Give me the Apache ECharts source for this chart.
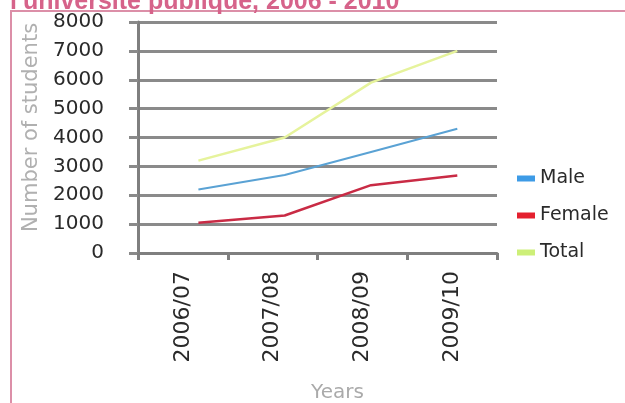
<!DOCTYPE html>
<html>
<head>
<meta charset="utf-8">
<script src="https://cdn.jsdelivr.net/npm/echarts@6/dist/echarts.min.js"></script>
<style>
html,body{margin:0;padding:0;background:#fff;}
#chart{width:625px;height:403px;}
</style>
</head>
<body>
<div id="chart"></div>
<script>
var categories = ['2006/07', '2007/08', '2008/09', '2009/10'];
var male = [2200, 2700, 3500, 4300];
var female = [1050, 1300, 2350, 2680];
var total = [3200, 4000, 5900, 7000];
var yTicks = [0, 1000, 2000, 3000, 4000, 5000, 6000, 7000, 8000];
var titleText = "l'université publique, 2006 - 2010";

function pts(arr) { return arr.map(function (v, i) { return [i, v]; }); }

var chart = echarts.init(document.getElementById('chart'));
var font = 'DejaVu Sans';
chart.setOption({
  animation: false,
  backgroundColor: '#ffffff',
  graphic: [
    { type: 'polyline', shape: { points: [[11, 403], [11, 11], [625, 11]] },
      style: { stroke: '#dc8fa8', lineWidth: 2, fill: null } },
    { type: 'text', left: 10, top: -10,
      style: { text: titleText, fill: '#d6638a', font: 'bold 25px "Liberation Sans"' } }
  ],
  grid: { left: 138, right: 128, top: 22, bottom: 150, containLabel: false, outerBoundsMode: 'none' },
  legend: {
    orient: 'vertical', left: 512, top: 163,
    itemWidth: 18, itemHeight: 6, itemGap: 16, icon: 'rect',
    textStyle: { fontFamily: font, fontSize: 19, color: '#2a2a2a', lineHeight: 21 },
    data: ['Male', 'Female', 'Total']
  },
  xAxis: [{
    type: 'category', data: categories, boundaryGap: true,
    name: 'Years', nameLocation: 'middle', nameGap: 130,
    nameTextStyle: { fontFamily: font, fontSize: 20, color: '#aaaaaa', padding: [0, 0, 0, 40] },
    axisLine: { lineStyle: { color: '#7f7f7f', width: 3 } },
    axisTick: { show: true, length: 7, lineStyle: { color: '#7f7f7f', width: 3 } },
    axisLabel: { rotate: 90, margin: 18, fontFamily: font, fontSize: 22, color: '#2a2a2a' },
    splitLine: { show: false }
  }, {
    type: 'value', min: -0.7, max: 3.46, show: false
  }],
  yAxis: {
    type: 'value', min: 0, max: 8000, interval: 1000,
    name: 'Number of students', nameLocation: 'middle', nameGap: 95, nameRotate: 90,
    nameTextStyle: { fontFamily: font, fontSize: 21, color: '#b0b0b0', padding: [0, 0, 0, 20] },
    axisLine: { show: true, onZero: false, lineStyle: { color: '#7f7f7f', width: 3 } },
    axisTick: { show: true, length: 9, lineStyle: { color: '#8a8a8a', width: 3 } },
    axisLabel: { margin: 34, fontFamily: font, fontSize: 20, color: '#2a2a2a',
      formatter: function (v) { return yTicks.indexOf(v) >= 0 ? String(v) : ''; } },
    splitLine: { show: true, lineStyle: { color: '#8a8a8a', width: 3 } }
  },
  series: [
    { name: 'Male', type: 'line', xAxisIndex: 1, data: pts(male), showSymbol: false,
      itemStyle: { color: '#3d9be6' }, lineStyle: { color: '#5aa2d4', width: 2 } },
    { name: 'Female', type: 'line', xAxisIndex: 1, data: pts(female), showSymbol: false,
      itemStyle: { color: '#e4202f' }, lineStyle: { color: '#c92b45', width: 2.5 } },
    { name: 'Total', type: 'line', xAxisIndex: 1, data: pts(total), showSymbol: false,
      itemStyle: { color: '#cdef78' }, lineStyle: { color: '#e6f39c', width: 2.5 } }
  ]
});
</script>
</body>
</html>
